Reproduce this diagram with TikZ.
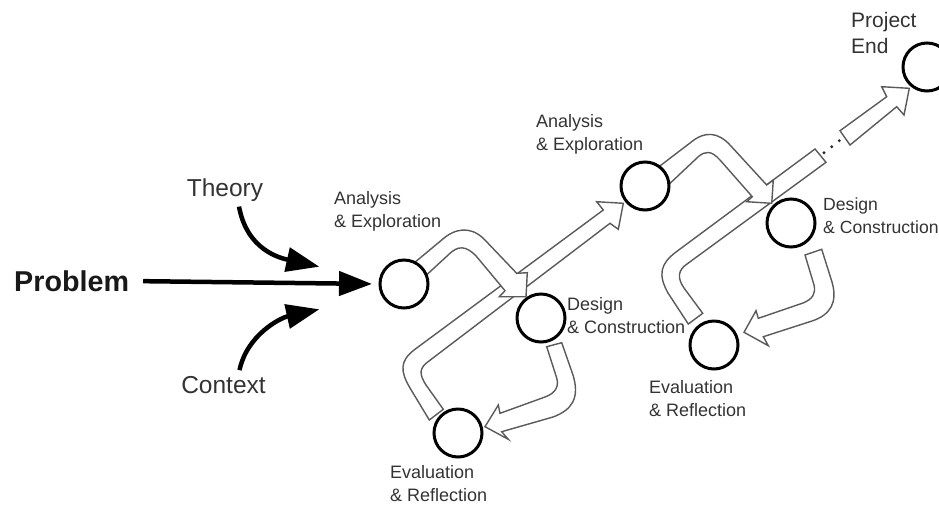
\documentclass[tikz,border=0pt]{standalone}
\usepackage{fontspec}
\setmainfont{Liberation Sans}
\usetikzlibrary{arrows.meta}
\definecolor{txt}{HTML}{333333}
\definecolor{edge}{HTML}{5A5A5A}
\tikzset{
  hollow/.style={draw=edge,line width=1.4pt,fill=white,line join=miter},
  stage/.style={circle,draw=black,line width=3pt,fill=white,minimum size=48pt,inner sep=0pt},
  small/.style={font=\fontsize{18}{23}\selectfont,text=txt,align=left,anchor=west,inner sep=0pt},
  big/.style={font=\fontsize{24.5}{28}\selectfont,text=black!80,inner sep=0pt},
  inflow/.style={draw=black,line width=4.5pt,-{Triangle[length=33pt,width=24pt]}},
}
\begin{document}
\begin{tikzpicture}[x=1pt,y=-1pt]
\clip (0,0) rectangle (939,504);
% first loop
\draw[hollow] (429.3,420) -- (410,388) .. controls (400,371) and (400,361) .. (414,350)
  -- (603.3,210) -- (596.7,201.7) -- (623.3,203.3) -- (618.3,229.3) -- (610,223.3)
  -- (429,361) .. controls (419,368) and (419,374) .. (426,385) -- (443.3,409.3) -- cycle;
\draw[hollow] (408,268) -- (441.7,240) .. controls (455,228) and (470,226) .. (483.3,238.3)
  -- (516.7,273.3) -- (527.3,272.7) -- (526,296.7) -- (499.3,296.7) -- (505,290.7)
  -- (476.7,256.7) .. controls (466,245) and (458,246) .. (450,253.3) -- (420,281) -- cycle;
\draw[hollow] (546.7,346.7) -- (561.7,342.7) -- (573,375) .. controls (580,398) and (572,410) .. (553,417)
  -- (501.7,431.7) -- (508.3,439.3) -- (485,426.7) -- (498.3,405) -- (500,413.3)
  -- (545,397) .. controls (556,393) and (559,386) .. (556.7,378) -- cycle;
% second loop
\draw[hollow] (688.3,324) -- (668,293) .. controls (658,275) and (660,264) .. (676,252)
  -- (815,149) -- (826,162.3)
  -- (687,264) .. controls (678,270) and (677,278) .. (684,288) -- (702.7,313.3) -- cycle;
\draw[hollow] (840,130.7) -- (886.7,96.7) -- (881.7,86.7) -- (909.3,88.3) -- (904,115) -- (896.7,106.7) -- (850,145) -- cycle;
\draw[hollow] (652,172) -- (691.7,141.7) .. controls (705,131) and (718,132) .. (730,145)
  -- (766.7,185) -- (773.3,180) -- (771.7,203.3) -- (746.7,201.7) -- (752.3,196.7)
  -- (720,160) .. controls (711,150) and (705,151) .. (698.3,156.7) -- (664,189) -- cycle;
\draw[hollow] (805,255) -- (821.7,249.3) -- (832,282) .. controls (838,303) and (830,315) .. (812,321)
  -- (763.3,336.7) -- (768.3,345.7) -- (744,332.3) -- (756,310.7) -- (758.3,318.3)
  -- (803,303) .. controls (813,299) and (816,293) .. (814,285) -- cycle;
\fill[black!85] (824,152.7) circle (1.6pt) (831.7,146.7) circle (1.6pt) (839.3,140.7) circle (1.6pt);
% stages
\node[stage] (a1) at (404,284) {};
\node[stage] (d1) at (541,318) {};
\node[stage] (e1) at (458,433) {};
\node[stage] (a2) at (645,186) {};
\node[stage] (d2) at (791,223) {};
\node[stage] (e2) at (714,345) {};
\node[stage] (end) at (927,67) {};
% labels
\node[small] (la1) at (334,211) {Analysis\\\& Exploration};
\node[small] (ld1) at (567,316) {Design\\\& Construction};
\node[small] (le1) at (390,484) {Evaluation\\\& Reflection};
\node[small] (la2) at (536,134) {Analysis\\\& Exploration};
\node[small,font=\fontsize{17.6}{23}\selectfont] (ld2) at (823,216) {Design\\\& Construction};
\node[small] (le2) at (649,399) {Evaluation\\\& Reflection};
\node[small,font=\fontsize{21}{26}\selectfont] (lend) at (851,33) {Project\\End};
% inputs
\node[font=\bfseries\fontsize{28.7}{30}\selectfont,text=black!90,inner sep=0pt,anchor=west] (problem) at (14,281) {Problem};
\node[big] (theory) at (225,190) {Theory};
\node[big] (context) at (223.5,385) {Context};
\coordinate (thend) at (319.3,266.7);
\coordinate (coend) at (319.3,309.3);
\draw[inflow,shorten <=14pt,shorten >=6.5pt] (problem.east) -- (a1.west);
\draw[inflow] (theory.south)+(14,5) .. controls (247,250) and (280,258) .. (thend);
\draw[inflow] (context.north)+(16,-6) .. controls (247,335) and (280,318) .. (coend);
\end{tikzpicture}
\end{document}
